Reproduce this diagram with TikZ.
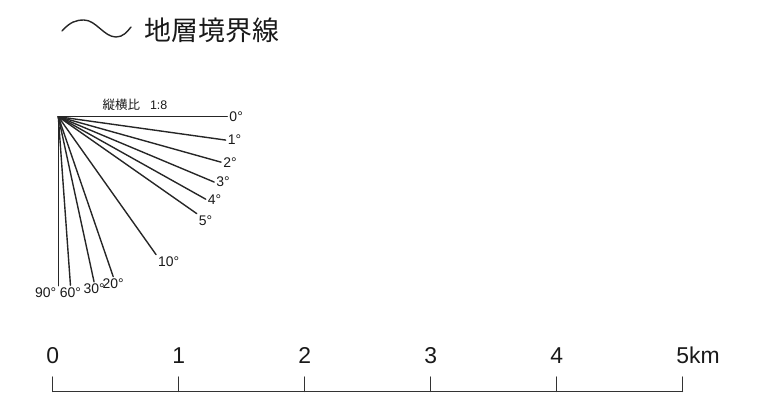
\documentclass[tikz,border=0pt]{standalone}
\usepackage{fontspec}
\setmainfont{Liberation Sans}
\newfontfamily\jpfont{Noto Sans CJK JP}
\begin{document}
\begin{tikzpicture}[x=1bp, y=-1bp, line cap=round,
  fan/.style={black!85, line width=1.4pt},
  deg/.style={inner sep=1.5pt, text=black!90, font=\fontsize{14}{14}\selectfont},
  bar/.style={black!80, line width=0.8pt},
  km/.style={anchor=base, inner sep=0, text=black!90, font=\fontsize{23}{23}\selectfont}]
\useasboundingbox (0,0) rectangle (763,394);
\draw[black!85, line width=1.4pt] (62,31) .. controls (70,22) and (76,20) .. (84,20) .. controls (96,20) and (104,37) .. (116,37) .. controls (123,37) and (127,32) .. (131,27);
\node[text=black!90, font=\jpfont\fontsize{27}{27}\selectfont] (legend) at (211.7,30) {地層境界線};
\coordinate (O) at (58.3,116.7);
\node[anchor=west, inner sep=0, text=black!90, font=\fontsize{12.5}{12.5}\selectfont] (ratio) at (102.5,104.5) {{\jpfont 縦横比}\hspace{0.8em}1:8};
\foreach \a/\anc in {0/west,1/west,2/west,3/west,4/west,5/north west,10/north west,20/north,30/north,60/north,90/north east} {
 \path (O) ++({atan2(8*sin(\a),cos(\a))}:169) coordinate (e\a);
 \draw[fan] (O) -- (e\a) node[deg, anchor=\anc] (d\a) {\a°};
}
\foreach \i/\t in {0/0,1/1,2/2,3/3,4/4,5/5\rlap{km}} {
 \coordinate (t\i) at (52.7+126*\i,391.7);
 \draw[bar] (t\i) --++(0,-15);
 \node[km] (k\i) at (52.7+126*\i,363.3) {\t};
}
\draw[bar] (t0) -- (t5);
\end{tikzpicture}
\end{document}
